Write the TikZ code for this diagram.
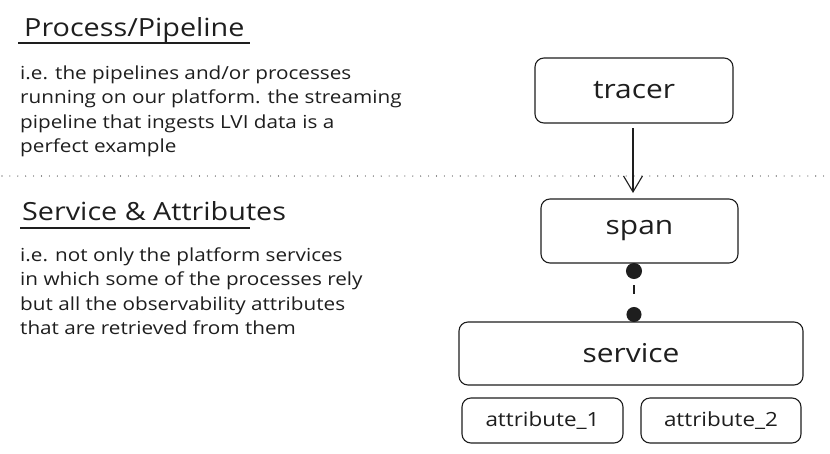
\documentclass[tikz,border=0pt]{standalone}
\usepackage{fontspec}
\setmainfont[FakeStretch=1.15]{Open Sans}
\usetikzlibrary{arrows.meta}
\definecolor{ink}{HTML}{1E1E1E}
\tikzset{
  box/.style={draw=ink, line width=1.1pt, rounded corners=9pt, inner sep=0pt},
  boxlabel/.style={text=ink, font=\fontsize{26}{30}\selectfont},
  attrlabel/.style={text=ink, font=\fontsize{19.5}{23}\selectfont},
  title/.style={text=ink, anchor=base west, inner sep=0pt, font=\fontsize{25}{29}\selectfont},
  para/.style={text=ink, anchor=base west, inner sep=0pt, font=\fontsize{18}{21}\selectfont},
  rule/.style={draw=ink, line width=1.2pt},
  sep/.style={draw=ink, line width=1.1pt, line cap=round, dash pattern=on 0pt off 7.9pt},
}
\begin{document}
\begin{tikzpicture}[x=1pt,y=-1pt]
\useasboundingbox (0,0) rectangle (830,453);
\fill[white] (0,0) rectangle (830,453);

% left texts
\node[title] (t1) at (24,36) {Process/Pipeline};
\coordinate (u1a) at (18,43);
\coordinate (u1b) at (250,43);
\draw[rule] (u1a) -- (u1b);
\node[para] (p11) at (20,79) {i.e. the pipelines and/or processes};
\node[para] (p12) at (20,103.5) {running on our platform. the streaming};
\node[para] (p13) at (20,128) {pipeline that ingests LVI data is a};
\node[para] (p14) at (20,152.5) {perfect example};

\coordinate (sa) at (2,176);
\coordinate (sb) at (830,176);
\draw[sep] (sa) -- (sb);

\node[title] (t2) at (22,220) {Service \& Attributes};
\coordinate (u2a) at (20,228);
\coordinate (u2b) at (250,228);
\draw[rule] (u2a) -- (u2b);
\node[para] (p21) at (20,261) {i.e. not only the platform services};
\node[para] (p22) at (20,285) {in which some of the processes rely};
\node[para] (p23) at (20,310) {but all the observability attributes};
\node[para] (p24) at (20,334) {that are retrieved from them};

% boxes
\node[box, minimum width=198pt, minimum height=65pt] (tracer) at (634,90.5) {};
\node[boxlabel] (tracerl) at (tracer.center) {tracer};
\node[box, minimum width=197pt, minimum height=64pt] (span) at (639.5,231) {};
\node[boxlabel] (spanl) at (span.center) {span};
\node[box, minimum width=344pt, minimum height=63pt] (service) at (631,353.5) {};
\node[boxlabel] (servicel) at (service.center) {service};
\node[box, minimum width=161pt, minimum height=45pt] (a1) at (542.5,420.5) {};
\node[attrlabel] (a1l) at (a1.center) {attribute\_1};
\node[box, minimum width=160pt, minimum height=45pt] (a2) at (721,420.5) {};
\node[attrlabel] (a2l) at (a2.center) {attribute\_2};

% connectors
\coordinate (arrS) at (633,128);
\coordinate (arrE) at (633,193);
\draw[draw=ink, line width=1.1pt, -{Straight Barb[length=16pt,width=19pt,line width=1.1pt]}] (arrS) -- (arrE);

\coordinate (spanB) at (634,263);
\coordinate (servT) at (634,322);
\draw[draw=ink, line width=1.4pt, dash pattern=on 9pt off 50pt, dash phase=52pt,
  {Circle[length=16pt,fill=ink]}-{Circle[length=15pt,fill=ink]}] (spanB) -- (servT);
\end{tikzpicture}
\end{document}
